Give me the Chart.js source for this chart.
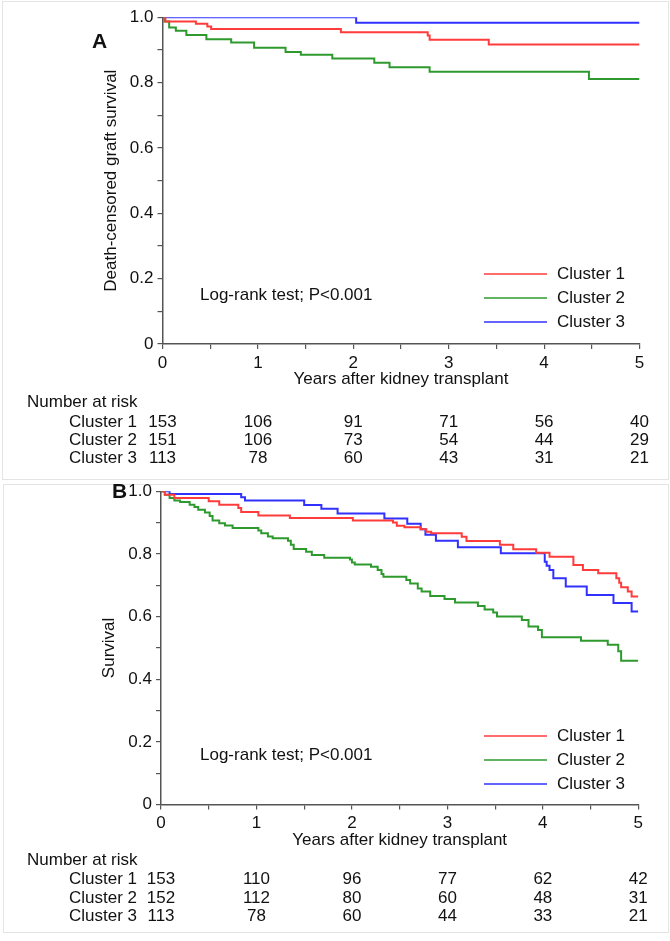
<!DOCTYPE html>
<html>
<head>
<meta charset="utf-8">
<script src="https://cdn.jsdelivr.net/npm/chart.js@4.4.0/dist/chart.umd.min.js"></script>
<style>
  body { margin: 0; background: #fff; }
  #wrap { position: relative; width: 670px; height: 941px; }
  canvas { position: absolute; left: 0; }
  .box { position: absolute; border: 1px solid #e4e4e4; }
</style>
</head>
<body>
<div id="wrap">
  <div class="box" style="left:2px; top:1px; width:665px; height:477px;"></div>
  <div class="box" style="left:3px; top:484px; width:664px; height:447px;"></div>
  <canvas id="chartA" width="670" height="470" style="top:0"></canvas>
  <canvas id="chartB" width="670" height="471" style="top:470px"></canvas>
</div>
<script>
// ---- data ----
const clusterNames = ['Cluster 1', 'Cluster 2', 'Cluster 3'];
const clusterColors = ['#ff3b3b', '#2e9a2e', '#3030ff'];
const yearTicks = [0, 1, 2, 3, 4, 5];
const yTickLabels = ['0', '0.2', '0.4', '0.6', '0.8', '1.0'];

// Panel A: death-censored graft survival (event times in years, survival after each step)
const timesA1 = [0, 0.03, 0.35, 0.47, 0.51, 1.87, 2.78, 2.80, 3.42, 5];
const survA1  = [1, 0.987, 0.980, 0.972, 0.964, 0.954, 0.944, 0.931, 0.917, 0.917];
const timesA2 = [0, 0.02, 0.07, 0.14, 0.25, 0.46, 0.72, 0.96, 1.29, 1.45, 1.78, 2.22, 2.38, 2.80, 4.47, 5];
const survA2  = [1, 0.987, 0.969, 0.959, 0.946, 0.933, 0.923, 0.907, 0.894, 0.885, 0.874, 0.861, 0.847, 0.833, 0.811, 0.811];
const timesA3 = [0, 2.03, 5];
const survA3  = [1, 0.983, 0.983];

// Panel B: survival
const timesB1 = [0, 0.04, 0.14, 0.50, 0.61, 0.81, 0.84, 1.02, 1.35, 2.01, 2.43, 2.47, 2.55, 2.72, 2.78, 2.83, 3.15, 3.20, 3.55, 3.69, 3.93, 4.07, 4.32, 4.42, 4.58, 4.77, 4.80, 4.82, 4.89, 4.93, 5];
const survB1  = [1, 0.989, 0.979, 0.968, 0.957, 0.947, 0.934, 0.923, 0.915, 0.907, 0.900, 0.890, 0.885, 0.879, 0.871, 0.866, 0.855, 0.841, 0.829, 0.815, 0.804, 0.791, 0.765, 0.749, 0.738, 0.722, 0.708, 0.694, 0.680, 0.664, 0.664];
const timesB2 = [0, 0.04, 0.09, 0.14, 0.20, 0.30, 0.35, 0.39, 0.46, 0.51, 0.54, 0.61, 0.67, 0.75, 1.02, 1.05, 1.12, 1.17, 1.33, 1.36, 1.39, 1.52, 1.58, 1.71, 1.98, 2.00, 2.03, 2.20, 2.27, 2.31, 2.33, 2.57, 2.61, 2.69, 2.73, 2.82, 2.97, 3.08, 3.32, 3.39, 3.48, 3.52, 3.78, 3.85, 3.95, 3.99, 4.40, 4.68, 4.79, 4.82, 5];
const survB2  = [1, 0.989, 0.979, 0.971, 0.966, 0.957, 0.950, 0.941, 0.932, 0.921, 0.907, 0.898, 0.891, 0.883, 0.875, 0.866, 0.856, 0.850, 0.842, 0.829, 0.816, 0.807, 0.797, 0.788, 0.782, 0.773, 0.766, 0.759, 0.749, 0.736, 0.727, 0.717, 0.706, 0.690, 0.680, 0.666, 0.656, 0.645, 0.634, 0.623, 0.613, 0.600, 0.589, 0.568, 0.557, 0.534, 0.523, 0.510, 0.489, 0.459, 0.459];
const timesB3 = [0, 0.09, 0.84, 0.88, 1.50, 1.68, 1.85, 2.34, 2.58, 2.72, 2.77, 2.88, 3.11, 3.56, 4.02, 4.04, 4.07, 4.11, 4.24, 4.46, 4.74, 4.93, 5];
const survB3  = [1, 0.991, 0.981, 0.971, 0.956, 0.944, 0.929, 0.913, 0.896, 0.879, 0.861, 0.842, 0.821, 0.802, 0.775, 0.762, 0.749, 0.722, 0.696, 0.669, 0.643, 0.616, 0.616];

// Number at risk
const riskA1 = [153, 106, 91, 71, 56, 40];
const riskA2 = [151, 106, 73, 54, 44, 29];
const riskA3 = [113, 78, 60, 43, 31, 21];
const riskB1 = [153, 110, 96, 77, 62, 42];
const riskB2 = [152, 112, 80, 60, 48, 31];
const riskB3 = [113, 78, 60, 44, 33, 21];

const FONT = 'Arial, "Liberation Sans", sans-serif';

function toPoints(times, surv) {
  return times.map((t, i) => ({ x: t, y: surv[i] }));
}

// draws panel letter, log-rank note, legend and risk table
const extrasPlugin = {
  id: 'extras',
  afterDraw(chart, args, opts) {
    const ctx = chart.ctx;
    const x = chart.scales.x;
    ctx.save();
    ctx.fillStyle = '#111';

    ctx.font = 'bold 21px ' + FONT;
    ctx.textAlign = 'left';
    ctx.textBaseline = 'middle';
    ctx.fillText(opts.letter, opts.letterX, opts.letterY);

    ctx.font = '17px ' + FONT;
    ctx.fillText('Log-rank test; P<0.001', opts.noteX, opts.noteY);

    opts.legendY.forEach((ly, i) => {
      ctx.strokeStyle = clusterColors[i];
      ctx.lineWidth = 1.5;
      ctx.beginPath();
      ctx.moveTo(484, ly);
      ctx.lineTo(547, ly);
      ctx.stroke();
      ctx.fillText(clusterNames[i], 557, ly);
    });

    ctx.fillText('Number at risk', 27, opts.riskY[0]);
    opts.risk.forEach((row, r) => {
      const ry = opts.riskY[r + 1];
      ctx.textAlign = 'right';
      ctx.fillText(clusterNames[r], 137, ry);
      ctx.textAlign = 'center';
      row.forEach((n, i) => ctx.fillText(String(n), x.getPixelForValue(yearTicks[i]), ry));
    });
    ctx.restore();
  }
};

function makePanel(id, yTitle, series, extras, pad) {
  new Chart(document.getElementById(id), {
    type: 'line',
    data: {
      datasets: series.map((s, i) => ({
        label: clusterNames[i],
        data: toPoints(s[0], s[1]),
        borderColor: clusterColors[i],
        borderWidth: 2,
        pointRadius: 0,
        stepped: true,
        fill: false
      }))
    },
    options: {
      responsive: false,
      animation: false,
      layout: { padding: pad },
      plugins: { legend: { display: false }, tooltip: { enabled: false }, extras: extras },
      scales: {
        x: {
          type: 'linear', min: 0, max: 5,
          afterFit: (s) => { s.height = 50; },
          ticks: {
            stepSize: 0.5, padding: 4, color: '#111', font: { family: FONT, size: 17 },
            maxRotation: 0,
            callback: (v) => (Number.isInteger(v) ? String(v) : '')
          },
          grid: { drawOnChartArea: false, drawTicks: true, tickLength: 5, color: '#555', lineWidth: 1.2 },
          border: { display: true, color: '#555', width: 1.5 },
          title: { display: true, text: 'Years after kidney transplant', color: '#111',
                   font: { family: FONT, size: 17 }, padding: { top: 0, bottom: 4 } }
        },
        y: {
          min: 0, max: 1,
          afterFit: (s) => { s.width = 67.5; },
          ticks: {
            stepSize: 0.1, padding: 4, color: '#111', font: { family: FONT, size: 17 },
            callback: (v) => {
              const k = Math.round(v * 10);
              return k % 2 === 0 ? yTickLabels[k / 2] : '';
            }
          },
          grid: { drawOnChartArea: false, drawTicks: true, tickLength: 5, color: '#555', lineWidth: 1.2 },
          border: { display: true, color: '#555', width: 1.5 },
          title: { display: true, text: yTitle, color: '#111',
                   font: { family: FONT, size: 17 }, padding: { top: 6, bottom: 0 } }
        }
      }
    },
    plugins: [extrasPlugin]
  });
}

makePanel('chartA', 'Death-censored graft survival',
  [[timesA1, survA1], [timesA2, survA2], [timesA3, survA3]],
  { letter: 'A', letterX: 92, letterY: 42, noteX: 200, noteY: 295,
    legendY: [274, 298, 322], risk: [riskA1, riskA2, riskA3], riskY: [402, 422, 440, 458] },
  { left: 95, right: 30.5, top: 17.3, bottom: 76 });

makePanel('chartB', 'Survival',
  [[timesB1, survB1], [timesB2, survB2], [timesB3, survB3]],
  { letter: 'B', letterX: 112, letterY: 22, noteX: 200, noteY: 285,
    legendY: [266, 290, 314], risk: [riskB1, riskB2, riskB3], riskY: [390, 409, 428, 446] },
  { left: 93.5, right: 31.7, top: 21.3, bottom: 86.5 });
</script>
</body>
</html>
